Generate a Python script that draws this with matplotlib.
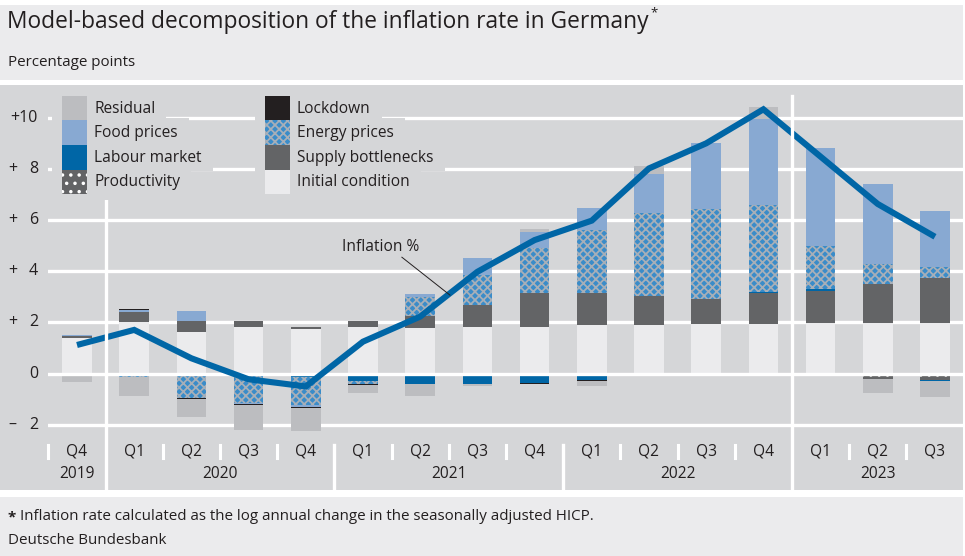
import matplotlib
matplotlib.use("Agg")
import matplotlib.pyplot as plt
from matplotlib.patches import Rectangle
from matplotlib.lines import Line2D
import matplotlib.transforms as mtransforms
import numpy as np

plt.rcParams['font.family'] = ['Open Sans', 'DejaVu Sans']
plt.rcParams['hatch.linewidth'] = 1.3

# ---------------- data ----------------
quarters = ['Q4', 'Q1', 'Q2', 'Q3', 'Q4', 'Q1', 'Q2', 'Q3', 'Q4',
            'Q1', 'Q2', 'Q3', 'Q4', 'Q1', 'Q2', 'Q3']
years = ['2019', '2020', '2021', '2022', '2023']
year_centers = [0, 2.5, 6.5, 10.5, 14]

initial = [1.38, 2.00, 1.64, 1.84, 1.75, 1.84, 1.80, 1.84, 1.84, 1.89, 1.90, 1.93, 1.93, 1.97, 1.97, 1.97]
supply = [0.10, 0.41, 0.43, 0.20, 0.07, 0.22, 0.47, 0.85, 1.33, 1.25, 1.13, 0.99, 1.21, 1.27, 1.52, 1.78]
productivity = [0, 0, 0, 0, 0, 0, 0, 0, 0, 0, -0.05, 0, -0.03, -0.08, -0.20, -0.25]
labour = [0, 0, 0, 0, -0.12, -0.30, -0.40, -0.41, -0.38, -0.25, 0, 0, 0.05, 0.08, 0, -0.05]
energy = [0, -0.15, -0.94, -1.13, -1.10, -0.10, 0.74, 1.17, 1.73, 2.47, 3.25, 3.52, 3.40, 1.68, 0.78, 0.40]
food = [0.03, 0.08, 0.38, -0.07, -0.07, 0, 0.09, 0.65, 0.65, 0.87, 1.51, 2.59, 3.36, 3.80, 3.16, 2.20]
lockdown = [0, 0.05, -0.05, -0.03, -0.04, -0.05, -0.02, 0, -0.02, -0.03, 0, 0, 0, 0, 0, 0]
residual = [-0.33, -0.71, -0.69, -0.97, -0.91, -0.32, -0.45, -0.07, 0.09, -0.20, 0.33, 0, 0.48, -0.03, -0.55, -0.63]
inflation = [1.12, 1.71, 0.60, -0.22, -0.50, 1.25, 2.23, 3.98, 5.22, 5.98, 8.02, 9.00, 10.33, 8.48, 6.63, 5.35]

y_ticks = [-2, 0, 2, 4, 6, 8, 10]

# ---------------- styles ----------------
LIGHT = '#ebebed'
PANEL = '#d5d6d8'
TXT = '#231f20'
BLUE = '#0066a6'

styles = {
    'Initial condition': dict(facecolor='#ebebed'),
    'Supply bottlenecks': dict(facecolor='#636466'),
    'Productivity': dict(facecolor='#636466', hatch='..', edgecolor='white'),
    'Labour market': dict(facecolor='#0066a6'),
    'Energy prices': dict(facecolor='#3a8cc9', hatch='xxxx', edgecolor='#a7afb8'),
    'Food prices': dict(facecolor='#88a9d2'),
    'Lockdown': dict(facecolor='#231f20'),
    'Residual': dict(facecolor='#bcbdc0'),
}
series = [('Initial condition', initial), ('Supply bottlenecks', supply),
          ('Productivity', productivity), ('Labour market', labour),
          ('Energy prices', energy), ('Food prices', food),
          ('Lockdown', lockdown), ('Residual', residual)]

W, H = 965, 556
fig = plt.figure(figsize=(W / 100, H / 100), dpi=100, facecolor='white')
renderer = fig.canvas.get_renderer()


def fx(x):
    return x / W


def fy(y):
    return 1 - y / H


def frect(x0, y0, x1, y1, **kw):
    r = Rectangle((fx(x0), fy(y1)), (x1 - x0) / W, (y1 - y0) / H,
                  transform=fig.transFigure, **kw)
    fig.add_artist(r)
    return r


# background panels
frect(0, 5, 963, 80, facecolor=LIGHT, edgecolor='none', zorder=-10)
frect(0, 85, 963, 490, facecolor=PANEL, edgecolor='none', zorder=-10)
frect(0, 497, 963, 556, facecolor=LIGHT, edgecolor='none', zorder=-10)

# titles / footer
title = fig.text(fx(7), fy(22), 'Model-based decomposition of the inflation rate in Germany',
                 fontsize=16.4, color=TXT, va='center', ha='left')
te = title.get_window_extent(renderer)
fig.text((te.x1 + 2) / W, fy(13), '*', fontsize=9.5, color=TXT, va='center', ha='left')
fig.text(fx(8), fy(63), 'Percentage points', fontsize=10.9, color=TXT, va='center', ha='left')
fig.text(fx(8), fy(517), '*', fontsize=10.9, color=TXT, va='center', ha='left', fontweight='bold')
fig.text(fx(20), fy(517), 'Inflation rate calculated as the log annual change in the seasonally adjusted HICP.',
         fontsize=10.9, color=TXT, va='center', ha='left')
fig.text(fx(8), fy(540), 'Deutsche Bundesbank', fontsize=10.9, color=TXT, va='center', ha='left')

# axes
ax = fig.add_axes([fx(48), fy(443), (963 - 48) / W, (443 - 96) / H])
ax.set_facecolor('none')
ax.set_xlim(-0.507, 15.49)
ax.set_ylim(-2.71, 10.85)
ax.axis('off')

x = np.arange(len(quarters))
pos_base = np.zeros(len(x))
neg_base = np.zeros(len(x))
for name, vals in series:
    v = np.array(vals, dtype=float)
    pos = np.clip(v, 0, None)
    neg = np.clip(v, None, 0)
    st = dict(styles[name])
    st.setdefault('edgecolor', 'none')
    ax.bar(x, pos, bottom=pos_base, width=0.52, linewidth=0, zorder=2, **st)
    ax.bar(x, neg, bottom=neg_base, width=0.52, linewidth=0, zorder=2, **st)
    pos_base += pos
    neg_base += neg

for v in y_ticks:
    ax.axhline(v, color='white', lw=2.4, zorder=3 if v == 0 else 1)

ax.plot(x, inflation, color=BLUE, lw=4.4, solid_joinstyle='miter',
        solid_capstyle='butt', zorder=6)

# annotation
ax.text(5.31, 4.93, 'Inflation %', fontsize=11.2, color=TXT, ha='center', va='center', zorder=7)
ax.plot([5.68, 6.52], [4.55, 3.07], color=TXT, lw=0.7, zorder=7)

# vertical separators / ticks
bt = mtransforms.blended_transform_factory(ax.transData, fig.transFigure)
for xv in [0.5, 12.5]:
    fig.add_artist(Line2D([xv, xv], [fy(96), fy(489)], transform=bt, color='white', lw=2.4, zorder=0.5))
for xv in [4.5, 8.5]:
    fig.add_artist(Line2D([xv, xv], [fy(445), fy(489)], transform=bt, color='white', lw=2.4, zorder=0.5))
for xv in [-0.5, 1.5, 2.5, 3.5, 5.5, 6.5, 7.5, 9.5, 10.5, 11.5, 13.5, 14.5]:
    fig.add_artist(Line2D([xv, xv], [fy(445), fy(458)], transform=bt, color='white', lw=2.2, zorder=0.5))

for i, q in enumerate(quarters):
    fig.text(i, fy(452), q, transform=bt, fontsize=11.2, color=TXT, ha='center', va='center')
for yc, yr in zip(year_centers, years):
    fig.text(yc, fy(474), yr, transform=bt, fontsize=11.2, color=TXT, ha='center', va='center')

# y tick labels
ybt = mtransforms.blended_transform_factory(fig.transFigure, ax.transData)
for v in y_ticks:
    if v == 10:
        fig.text(fx(38), v, '+10', transform=ybt, fontsize=11.5, color=TXT, ha='right', va='center')
    elif v == 0:
        fig.text(fx(38), v, '0', transform=ybt, fontsize=11.5, color=TXT, ha='right', va='center')
    else:
        sign = '+' if v > 0 else '\u2013'
        fig.text(fx(8), v, sign, transform=ybt, fontsize=11.5, color=TXT, ha='left', va='center')
        fig.text(fx(38), v, str(abs(v)), transform=ybt, fontsize=11.5, color=TXT, ha='right', va='center')

# legend (manual)
cols = [(62, ['Residual', 'Food prices', 'Labour market', 'Productivity']),
        (265, ['Lockdown', 'Energy prices', 'Supply bottlenecks', 'Initial condition'])]
row_top = 96.0
row_h = 24.5
for px0, names in cols:
    for r, name in enumerate(names):
        y0 = row_top + r * row_h
        y1 = y0 + row_h
        st = dict(styles[name])
        st.setdefault('edgecolor', 'none')
        frect(px0, y0, px0 + 25, y1, linewidth=0, zorder=2, **st)
        t = fig.text(fx(px0 + 32), fy((y0 + y1) / 2 + 0.5), name, fontsize=11.2, color=TXT,
                     ha='left', va='center', zorder=3)
        ext = t.get_window_extent(renderer)
        xe = ext.x1 + 11
        yb = y1 + (6 if r == 3 else 1)
        frect(px0 - 10, y0 - 2, xe, yb, facecolor=PANEL, edgecolor='none', zorder=1)

fig.savefig('out.png', dpi=100, facecolor='white')
